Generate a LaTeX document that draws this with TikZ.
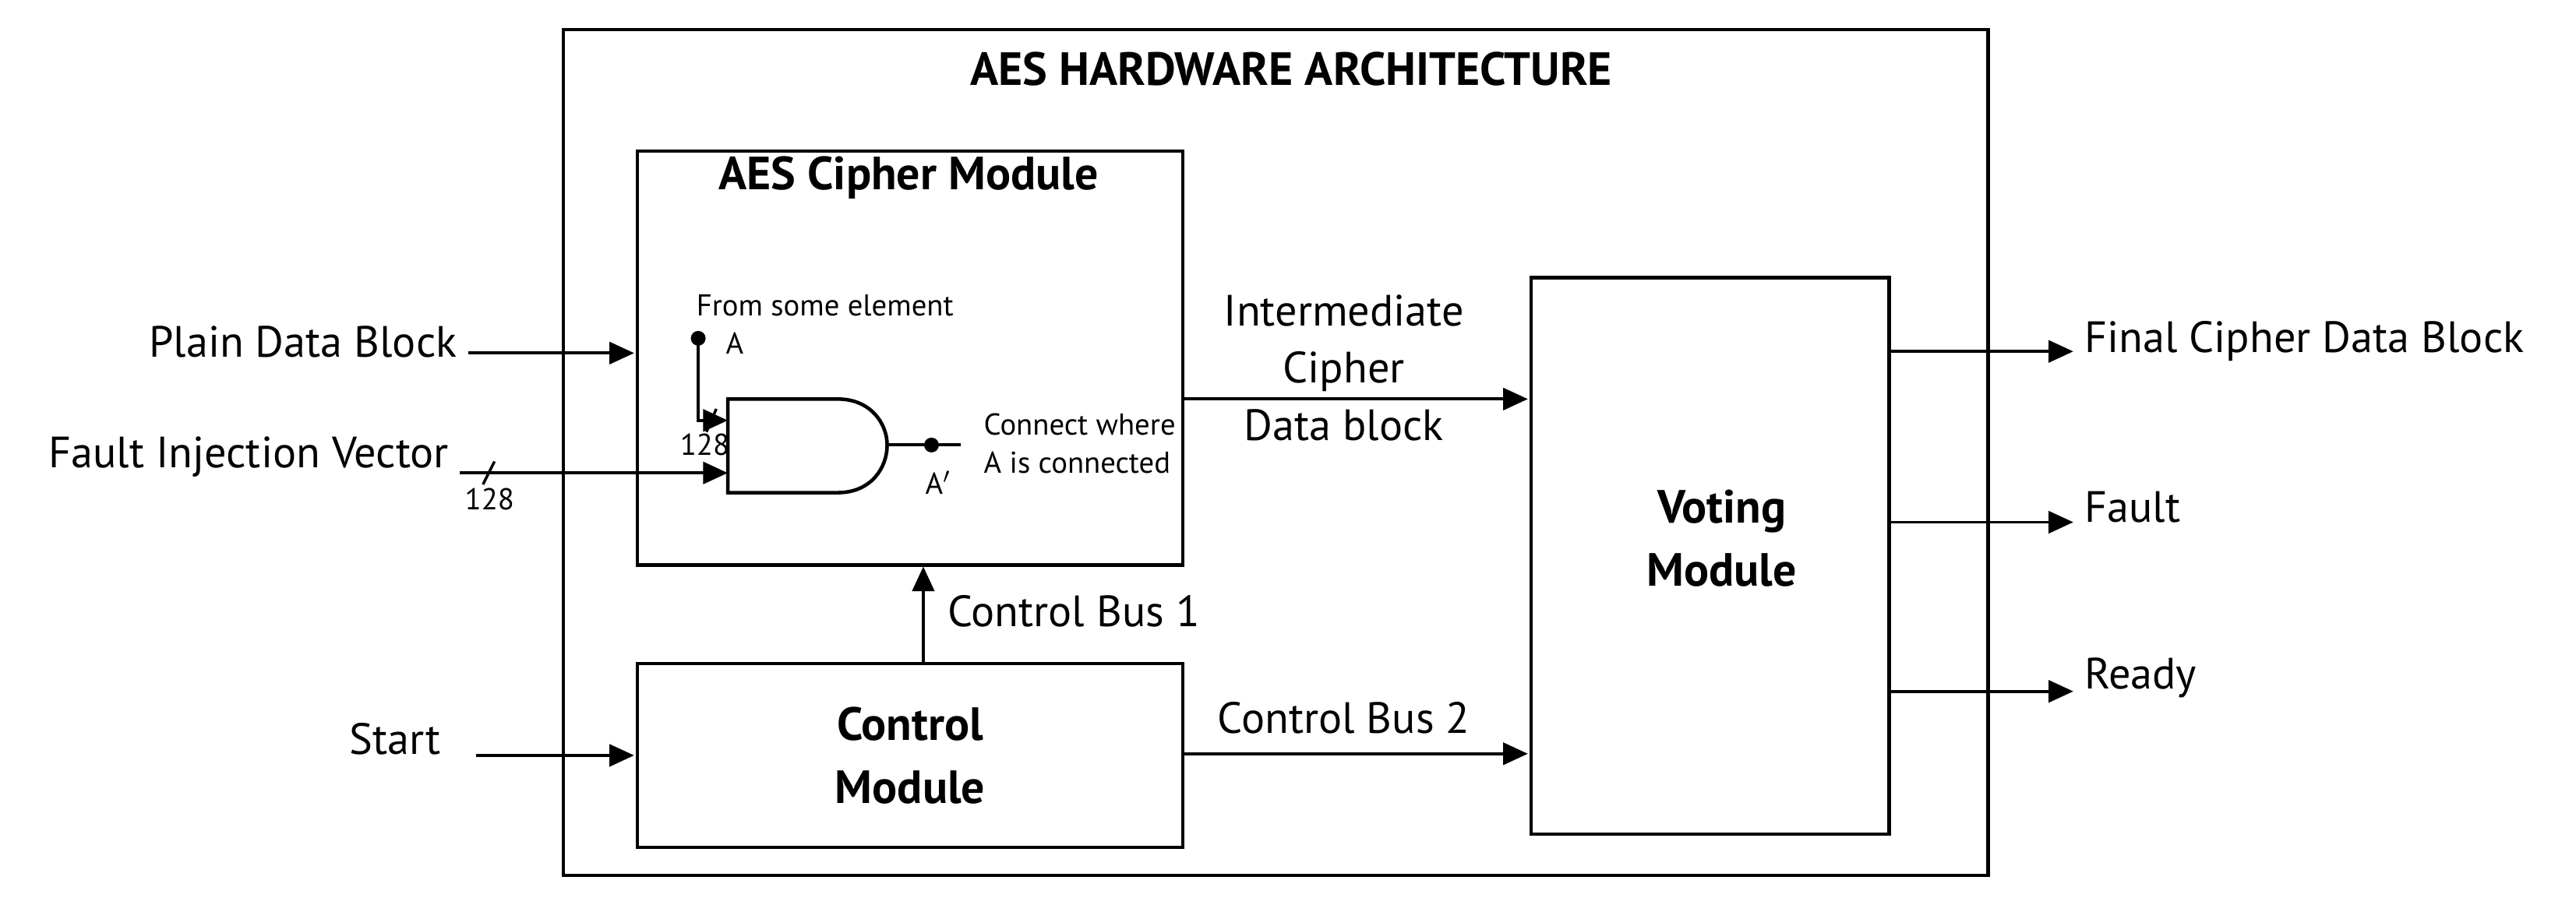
\documentclass[tikz,border=0pt]{standalone}
\usepackage{fontspec}
\setmainfont{PT Sans}
\usetikzlibrary{arrows.meta}
\begin{document}
\begin{tikzpicture}[x=0.02108cm,y=-0.02108cm,
  box/.style={draw,line width=1.3pt},
  arr/.style={line width=1.1pt,-{Triangle[length=9pt,width=8pt]}},
  big/.style={font=\fontsize{16}{19}\selectfont},
  bold/.style={font=\fontsize{17}{23}\selectfont\bfseries,align=center},
  small/.style={font=\fontsize{11}{14}\selectfont}]
\useasboundingbox (0,0) rectangle (1568,551);
\fill[white] (0,0) rectangle (1568,551);
\draw[box] (343,18) rectangle (1210,533);
\node[bold] (title) at (786,42) {AES HARDWARE ARCHITECTURE};
\draw[box] (388,92) rectangle (720,344);
\node[bold] (ct) at (553,108) {AES Cipher Module};
\draw[box] (388,404) rectangle (720,516);
\node[bold] (cm) at (554,460) {Control\\Module};
\draw[box] (932,169) rectangle (1150,508);
\node[bold] (vm) at (1048,328) {Voting\\Module};
% coordinates
\coordinate (cl1) at (386,215); \coordinate (cl1s) at (285,215);
\coordinate (st) at (290,460); \coordinate (ste) at (386,460);
% inputs
\node[big,anchor=east] (pdb) at (284,208) {Plain Data Block};
\draw[arr] (cl1s) -- (cl1);
\node[big,anchor=east] (fiv) at (279,278) {Fault Injection Vector};
\node[big,anchor=east] (stl) at (274,450) {Start};
\draw[arr] (st) -- (ste);
% gate
\draw[line width=1.3pt] (443,243) -- (510,243) .. controls (530,243) and (540,258) .. (540,271) .. controls (540,285) and (530,300) .. (510,300) -- (443,300) -- cycle;
\coordinate (g1) at (443,256); \coordinate (g2) at (443,288);
\coordinate (fs) at (280,288);
\draw[arr] (fs) -- (g2);
\draw[line width=1pt] (294,295) -- (301,281);
\node[small] (n128b) at (298,304) {128};
\fill (425,206) circle (4.5);
\coordinate (A) at (425,206);
\node[small,anchor=west] (Al) at (436,209) {A};
\node[small,anchor=west] (fse) at (418,186) {From some element};
\draw[arr] (A) |- (g1);
\draw[line width=1pt] (430,263) -- (436,249);
\node[small] (n128a) at (429,271) {128};
\coordinate (go) at (540,271); \coordinate (ge) at (585,271);
\draw[line width=1.1pt] (go) -- (ge);
\fill (567,271) circle (4.5);
\node[small] (Ap) at (571,294) {A$'$};
\node[small,anchor=west,align=left] (cw) at (593,270) {Connect where\\A is connected};
% internal arrows
\coordinate (ic1) at (720,243); \coordinate (ic2) at (930,243);
\draw[arr] (ic1) -- (ic2);
\node[big,align=center] (icl) at (818,224) {Intermediate\\[2pt]Cipher\\[2pt]Data block};
\coordinate (cb1s) at (562,404); \coordinate (cb1e) at (562,345);
\draw[arr] (cb1s) -- (cb1e);
\node[big,anchor=west] (cb1) at (571,372) {Control Bus 1};
\coordinate (cb2s) at (720,459); \coordinate (cb2e) at (930,459);
\draw[arr] (cb2s) -- (cb2e);
\node[big] (cb2) at (818,437) {Control Bus 2};
% outputs
\foreach \y/\n in {214/o1,318/o2,421/o3}{
  \coordinate (\n s) at (1150,\y); \coordinate (\n e) at (1262,\y);
  \draw[arr] (\n s) -- (\n e);}
\node[big,anchor=west] (fcd) at (1263,208) {Final Cipher Data Block};
\node[big,anchor=west] (flt) at (1263,309) {Fault};
\node[big,anchor=west] (rdy) at (1263,413) {Ready};
\end{tikzpicture}
\end{document}
